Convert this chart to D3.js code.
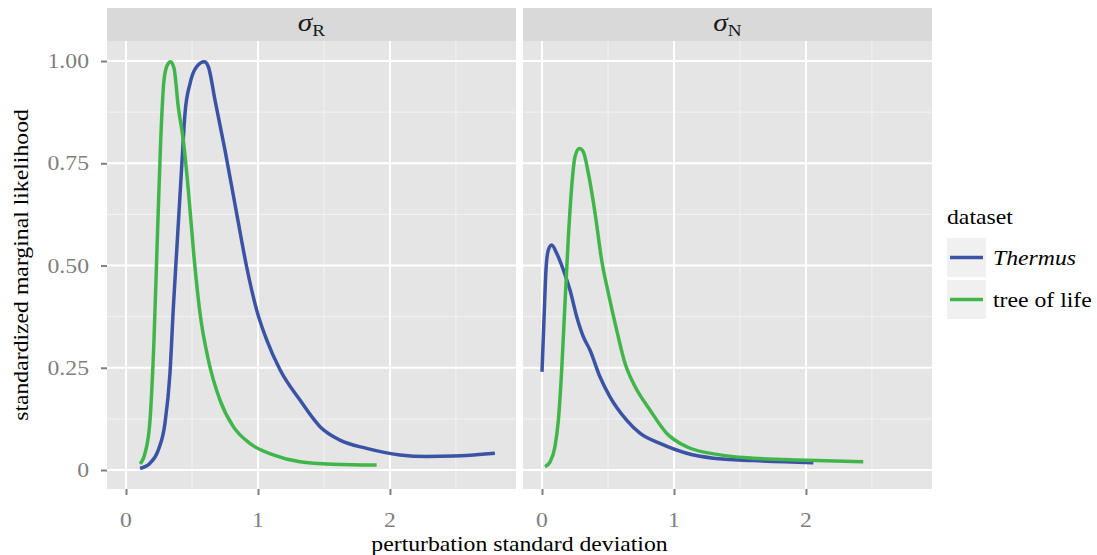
<!DOCTYPE html>
<html>
<head>
<meta charset="utf-8">
<script src="https://cdnjs.cloudflare.com/ajax/libs/d3/7.8.5/d3.min.js"></script>
<style>
  body { margin: 0; background: #fff; }
  text { font-family: "Liberation Serif", "DejaVu Serif", serif; }
</style>
</head>
<body>
<div id="content"></div>
<script>
// facets and legend
var facetSubs = ["R", "N"];
var seriesNames = ["Thermus", "tree of life"];
var seriesColors = ["#3a53a4", "#40b64a"];

// axis ticks
var xTicks = [0, 1, 2];
var xMinor = [0.5, 1.5, 2.5];
var yTicks = [0, 0.25, 0.5, 0.75, 1];
var yTickLabels = ["0", "0.25", "0.50", "0.75", "1.00"];
var yMinor = [0.125, 0.375, 0.625, 0.875];

// sigma_R panel: [sd, likelihood]
var thermusR = [[0.106,0.004],[0.18,0.016],[0.245,0.049],[0.295,0.114],[0.333,0.236],[0.359,0.399],
  [0.389,0.562],[0.422,0.742],[0.447,0.872],[0.485,0.945],[0.535,0.986],[0.593,0.998],[0.624,0.986],
  [0.674,0.905],[0.75,0.782],[0.838,0.628],[0.914,0.497],[0.99,0.391],[1.066,0.318],[1.167,0.245],
  [1.318,0.171],[1.47,0.106],[1.621,0.073],[1.823,0.053],[2.076,0.037],[2.278,0.033],[2.48,0.034],[2.795,0.041]];
var treeR = [[0.106,0.015],[0.144,0.041],[0.18,0.114],[0.212,0.318],[0.237,0.562],[0.263,0.807],
  [0.288,0.954],[0.313,0.99],[0.338,0.998],[0.364,0.982],[0.396,0.888],[0.434,0.807],[0.472,0.685],
  [0.515,0.522],[0.561,0.383],[0.624,0.269],[0.712,0.171],[0.813,0.106],[0.939,0.065],[1.116,0.037],
  [1.318,0.020],[1.571,0.014],[1.899,0.012]];

// sigma_N panel
var thermusN = [[0,0.24],[0.015,0.367],[0.03,0.489],[0.048,0.538],[0.073,0.55],[0.111,0.53],[0.162,0.489],
  [0.212,0.44],[0.263,0.375],[0.313,0.326],[0.364,0.293],[0.439,0.228],[0.515,0.179],[0.641,0.122],
  [0.742,0.09],[0.894,0.065],[1.096,0.041],[1.298,0.029],[1.601,0.023],[2.056,0.018]];
var treeN = [[0.023,0.008],[0.061,0.02],[0.098,0.057],[0.124,0.122],[0.149,0.244],[0.174,0.407],[0.2,0.571],
  [0.225,0.693],[0.25,0.766],[0.283,0.786],[0.313,0.778],[0.351,0.726],[0.402,0.628],[0.452,0.513],
  [0.503,0.432],[0.566,0.342],[0.629,0.261],[0.705,0.204],[0.818,0.147],[0.944,0.09],[1.096,0.057],
  [1.348,0.037],[1.601,0.029],[2.005,0.024],[2.434,0.02]];

var facetData = [[thermusR, treeR], [thermusN, treeN]];

var W = 1097, H = 555;
var panelLeft = [107, 523], panelW = 409;
var panelTop = 41, panelBottom = 489, stripTop = 8;
var fs = 21, stretch = 1.13; // reference text is a bit wide

var svg = d3.select("#content").append("svg").attr("width", W).attr("height", H);
svg.append("rect").attr("width", W).attr("height", H).attr("fill", "#fff");

// place text at (x, y) with horizontal stretch
function txt(parent, x, y, s, anchor) {
  return parent.append("text")
    .attr("transform", "translate(" + x + "," + y + ") scale(" + stretch + ",1)")
    .attr("text-anchor", anchor || "start").attr("font-size", fs).text(s);
}

var y = d3.scaleLinear().domain([-0.0464, 1.049]).range([panelBottom, panelTop]);

var line = d3.line().curve(d3.curveMonotoneX);

facetSubs.forEach(function(sub, i) {
  var x = d3.scaleLinear().domain([-0.144, 2.955]).range([panelLeft[i], panelLeft[i] + panelW]);
  var g = svg.append("g");

  // strip
  g.append("rect").attr("x", panelLeft[i]).attr("y", stripTop).attr("width", panelW)
    .attr("height", panelTop - stripTop).attr("fill", "#d9d9d9");
  var st = g.append("text")
    .attr("transform", "translate(" + (panelLeft[i] + panelW / 2) + ",31) scale(" + stretch + ",1)")
    .attr("text-anchor", "middle").attr("fill", "#1a1a1a");
  st.append("tspan").attr("font-style", "italic").attr("font-size", 26).text("σ");
  st.append("tspan").attr("font-size", 17).attr("dy", 5).text(sub);

  // panel
  g.append("rect").attr("x", panelLeft[i]).attr("y", panelTop).attr("width", panelW)
    .attr("height", panelBottom - panelTop).attr("fill", "#e5e5e5");

  g.selectAll(".xminor").data(xMinor).enter().append("line")
    .attr("x1", x).attr("x2", x).attr("y1", panelTop).attr("y2", panelBottom)
    .attr("stroke", "#f2f2f2").attr("stroke-width", 1);
  g.selectAll(".yminor").data(yMinor).enter().append("line")
    .attr("x1", panelLeft[i]).attr("x2", panelLeft[i] + panelW).attr("y1", y).attr("y2", y)
    .attr("stroke", "#f2f2f2").attr("stroke-width", 1);
  g.selectAll(".xmajor").data(xTicks).enter().append("line")
    .attr("x1", x).attr("x2", x).attr("y1", panelTop).attr("y2", panelBottom)
    .attr("stroke", "#fff").attr("stroke-width", 2);
  g.selectAll(".ymajor").data(yTicks).enter().append("line")
    .attr("x1", panelLeft[i]).attr("x2", panelLeft[i] + panelW).attr("y1", y).attr("y2", y)
    .attr("stroke", "#fff").attr("stroke-width", 2);

  // lines
  facetData[i].forEach(function(series, k) {
    g.append("path").datum(series)
      .attr("d", line.x(function(d) { return x(d[0]); }).y(function(d) { return y(d[1]); }))
      .attr("fill", "none").attr("stroke", seriesColors[k]).attr("stroke-width", 3.5)
      .attr("stroke-linejoin", "round");
  });

  // x axis
  var xAxis = d3.axisBottom(x).tickValues(xTicks).tickSize(6).tickFormat("");
  var ax = g.append("g").attr("transform", "translate(0," + panelBottom + ")").call(xAxis);
  ax.select(".domain").remove();
  ax.selectAll("line").attr("stroke", "#7f7f7f").attr("stroke-width", 2);
  xTicks.forEach(function(t) {
    txt(g, x(t), 527, String(t), "middle").attr("fill", "#7f7f7f");
  });
});

// y axis
var yAxis = d3.axisLeft(y).tickValues(yTicks).tickSize(6).tickFormat("");
var ay = svg.append("g").attr("transform", "translate(" + panelLeft[0] + ",0)").call(yAxis);
ay.select(".domain").remove();
ay.selectAll("line").attr("stroke", "#7f7f7f").attr("stroke-width", 2);
yTicks.forEach(function(t, i) {
  txt(svg, 89, y(t) + 7, yTickLabels[i], "end").attr("fill", "#7f7f7f");
});

// axis titles
txt(svg, (panelLeft[0] + panelLeft[1] + panelW) / 2, 551, "perturbation standard deviation", "middle");
svg.append("text")
  .attr("transform", "translate(28," + (panelTop + panelBottom) / 2 + ") rotate(-90) scale(" + stretch + ",1)")
  .attr("text-anchor", "middle").attr("font-size", fs).text("standardized marginal likelihood");

// legend
var lg = svg.append("g").attr("transform", "translate(947,0)");
txt(lg, 0, 224, "dataset");
seriesNames.forEach(function(name, k) {
  var ky = 238 + k * 42;
  lg.append("rect").attr("x", 0).attr("y", ky).attr("width", 39).attr("height", 39).attr("fill", "#f0f0f0");
  lg.append("line").attr("x1", 3).attr("x2", 36).attr("y1", ky + 19.5).attr("y2", ky + 19.5)
    .attr("stroke", seriesColors[k]).attr("stroke-width", 3.5);
  txt(lg, 46, ky + 27, name).attr("font-style", k === 0 ? "italic" : "normal");
});
</script>
</body>
</html>
